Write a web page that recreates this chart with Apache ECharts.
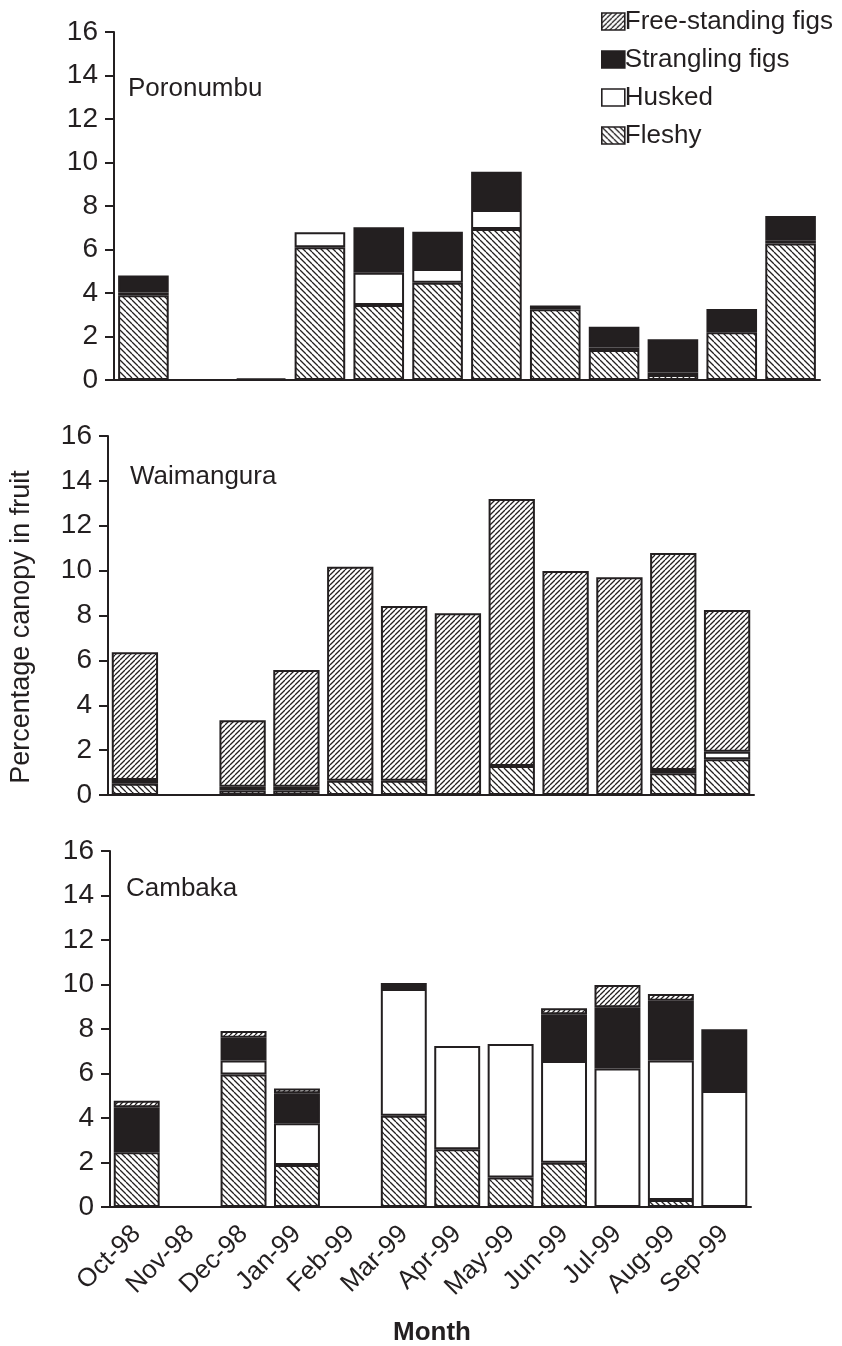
<!DOCTYPE html>
<html><head><meta charset="utf-8">
<script src="https://cdn.jsdelivr.net/npm/echarts@6/dist/echarts.min.js"></script>
<style>html,body{margin:0;padding:0;background:#fff}#c{width:842px;height:1346px}</style>
</head><body><div id="c"></div>
<script>
const months = ['Oct-98','Nov-98','Dec-98','Jan-99','Feb-99','Mar-99','Apr-99','May-99','Jun-99','Jul-99','Aug-99','Sep-99'];
const yTicks = [0,2,4,6,8,10,12,14,16];
const sites = ['Poronumbu','Waimangura','Cambaka'];
const seriesNames = ['Fleshy','Husked','Strangling figs','Free-standing figs'];
const legendOrder = ['Free-standing figs','Strangling figs','Husked','Fleshy'];

// Poronumbu
const poroFleshy   = [3.9, 0, 0, 6.1, 3.45, 4.47, 6.94, 3.25, 1.38, 0.23, 2.19, 6.28];
const poroHusked   = [0.12, 0, 0, 0.69, 1.48, 0.63, 0.88, 0.18, 0.11, 0.11, 0.11, 0.12];
const poroStrang   = [0.78, 0, 0.08, 0, 2.09, 1.72, 1.76, 0, 0.96, 1.53, 0.96, 1.14];
const poroFree     = [0, 0, 0, 0, 0, 0, 0, 0, 0, 0, 0, 0];
// Waimangura
const waimFleshy   = [0.5, 0, 0.2, 0.2, 0.64, 0.64, 0, 1.29, 0, 0, 0.97, 1.59];
const waimHusked   = [0.17, 0, 0.17, 0.17, 0, 0, 0, 0, 0, 0, 0.14, 0.34];
const waimStrang   = [0, 0, 0, 0, 0, 0, 0, 0, 0, 0, 0, 0];
const waimFree     = [5.69, 0, 2.96, 5.2, 9.53, 7.78, 8.1, 11.9, 9.98, 9.7, 9.67, 6.31];
// Cambaka
const cambFleshy   = [2.46, 0, 5.96, 1.89, 0, 4.1, 2.59, 1.33, 1.99, 0, 0.31, 0];
const cambHusked   = [0, 0, 0.62, 1.87, 0, 5.7, 4.65, 6.0, 4.57, 6.23, 6.27, 5.21];
const cambStrang   = [2.02, 0, 1.03, 1.35, 0, 0.27, 0, 0, 2.1, 2.75, 2.69, 2.78];
const cambFree     = [0.3, 0, 0.3, 0.22, 0, 0, 0, 0, 0.27, 1.0, 0.3, 0];

const INK = '#231f20';
function hatch(size, dir){
  const c = document.createElement('canvas');
  c.width = size; c.height = size;
  const g = c.getContext('2d');
  g.fillStyle = '#fff'; g.fillRect(0,0,size,size);
  g.strokeStyle = INK; g.lineWidth = 1.3;
  g.beginPath();
  if (dir === 'back') {
    for (const o of [-size, 0, size]) { g.moveTo(o, 0); g.lineTo(o + size, size); }
  } else {
    for (const o of [-size, 0, size]) { g.moveTo(o, size); g.lineTo(o + size, 0); }
  }
  g.stroke();
  return c;
}
const fleshyPat = {image: hatch(6, 'back'), repeat: 'repeat'};
const freePat = {image: hatch(5, 'fwd'), repeat: 'repeat'};
const colors = {
  'Fleshy': fleshyPat,
  'Husked': '#ffffff',
  'Strangling figs': INK,
  'Free-standing figs': freePat
};
const data = [
  [poroFleshy, poroHusked, poroStrang, poroFree],
  [waimFleshy, waimHusked, waimStrang, waimFree],
  [cambFleshy, cambHusked, cambStrang, cambFree]
];
const grids = [
  {left: 114, top: 32, width: 706, height: 348},
  {left: 108, top: 436, width: 646, height: 359},
  {left: 110, top: 851, width: 641, height: 356}
];
const font = 'Liberation Sans, Arial, sans-serif';

const xAxis = grids.map((g, i) => ({
  type: 'category', gridIndex: i, data: months,
  axisLine: {lineStyle: {color: INK, width: 2}},
  axisTick: {alignWithLabel: true, length: 8, lineStyle: {color: INK, width: 2}},
  axisLabel: i === 2 ? {show: true, rotate: 45, fontSize: 26, color: INK, fontFamily: font, margin: 23, interval: 0} : {show: false}
}));
const yAxis = grids.map((g, i) => ({
  type: 'value', gridIndex: i, min: 0, max: 16, interval: 2,
  axisLine: {show: true, lineStyle: {color: INK, width: 2}},
  axisTick: {show: true, length: 9, lineStyle: {color: INK, width: 2}},
  axisLabel: {fontSize: 28, color: INK, fontFamily: font, margin: 16},
  splitLine: {show: false}
}));
const series = [];
data.forEach((set, gi) => {
  set.forEach((arr, si) => {
    const name = seriesNames[si];
    series.push({
      type: 'bar', name, xAxisIndex: gi, yAxisIndex: gi, stack: 'st' + gi,
      barWidth: '86%',
      data: arr.map(v => v === 0 ? null : v),
      itemStyle: {color: colors[name], borderColor: INK, borderWidth: 2},
      emphasis: {disabled: true},
      animation: false
    });
  });
});

const chart = echarts.init(document.getElementById('c'), null, {renderer: 'canvas', devicePixelRatio: 1});
chart.setOption({
  animation: false,
  grid: grids,
  xAxis, yAxis, series,
  legend: {
    data: legendOrder.map(n => ({name: n, icon: 'rect'})), orient: 'vertical', left: 596, top: 3,
    itemWidth: 23, itemHeight: 17, itemGap: 11,
    textStyle: {fontSize: 26, color: INK, fontFamily: font, padding: [0,0,0,-5], lineHeight: 27},
    itemStyle: {borderColor: INK, borderWidth: 1.6},
    selectedMode: false
  },
  graphic: [
    {type: 'text', left: 128, top: 76, style: {text: sites[0], fontSize: 26, fill: INK, fontFamily: font}},
    {type: 'text', left: 130, top: 464, style: {text: sites[1], fontSize: 26, fill: INK, fontFamily: font}},
    {type: 'text', left: 126, top: 876, style: {text: sites[2], fontSize: 26, fill: INK, fontFamily: font}},
    {type: 'text', x: 22, y: 627, rotation: Math.PI/2, style: {text: 'Percentage canopy in fruit', fontSize: 27, fill: INK, fontFamily: font, align: 'center', verticalAlign: 'middle'}},
    {type: 'text', x: 432, y: 1333, style: {text: 'Month', fontSize: 26, fontWeight: 'bold', fill: INK, fontFamily: font, align: 'center', verticalAlign: 'middle'}}
  ]
});
</script></body></html>
